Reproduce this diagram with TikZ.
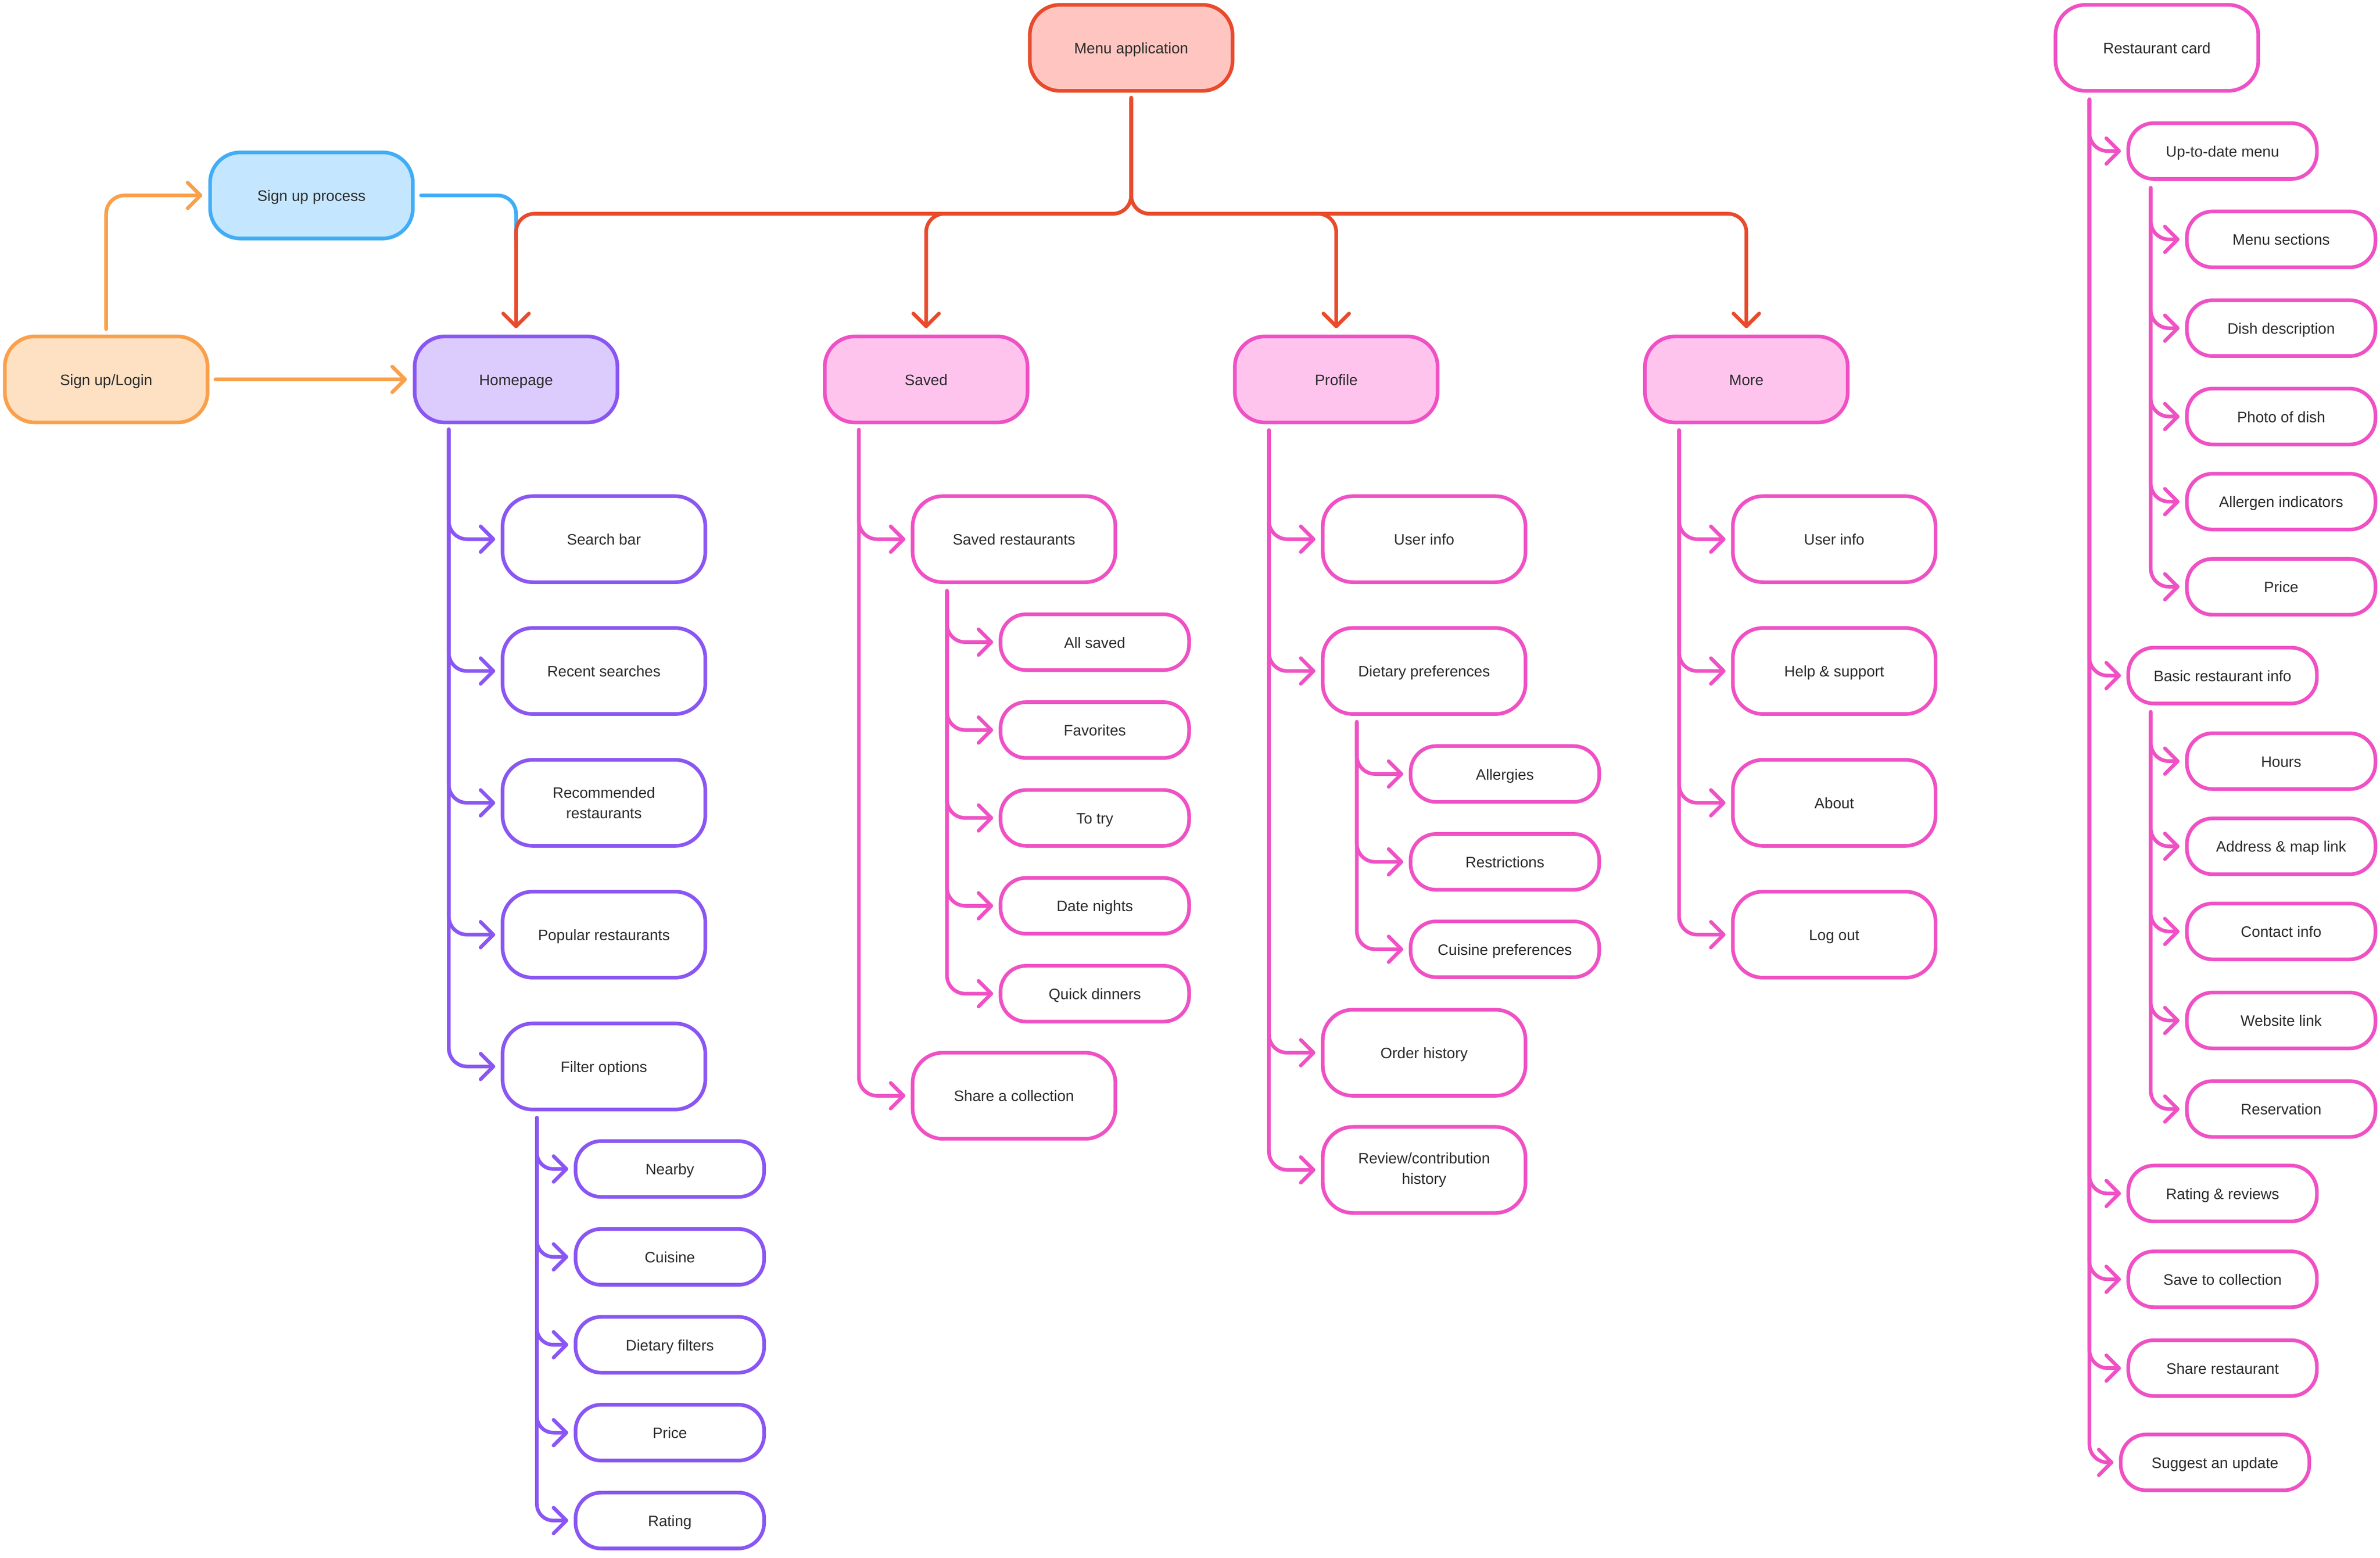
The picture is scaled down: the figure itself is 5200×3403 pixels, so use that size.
\documentclass[tikz,border=0pt]{standalone}
\usepackage{fontspec}
\setmainfont{Liberation Sans}
\usetikzlibrary{arrows.meta,calc}
\definecolor{cRed}{HTML}{E84B2C}
\definecolor{cRedF}{HTML}{FFC6C1}
\definecolor{cBlue}{HTML}{41ADF5}
\definecolor{cBlueF}{HTML}{C4E6FE}
\definecolor{cOrg}{HTML}{F9A04B}
\definecolor{cOrgF}{HTML}{FEE0C3}
\definecolor{cPur}{HTML}{8A56F3}
\definecolor{cPurF}{HTML}{DCCCFE}
\definecolor{cPink}{HTML}{EF51C4}
\definecolor{cPinkF}{HTML}{FFC4ED}
\definecolor{cText}{HTML}{2C2C2C}
\begin{document}
\begin{tikzpicture}[x=1pt,y=-1pt,
  box/.style={draw, line width=8pt, rounded corners=66pt, minimum width=443pt, minimum height=188pt,
    align=center, text=cText, font=\fontsize{33}{45}\selectfont, inner sep=0pt,
    text height=25pt, text depth=0pt},
  twoline/.style={text height={}, text depth={}},
  sbox/.style={box, rounded corners=56pt, minimum width=412pt, minimum height=122pt},
  pur/.style={box, draw=cPur, fill=white},
  spur/.style={sbox, draw=cPur, fill=white},
  pnk/.style={box, draw=cPink, fill=white},
  spnk/.style={sbox, draw=cPink, fill=white},
  conn/.style={line width=8pt, line cap=round, rounded corners=40pt,
    -{Straight Barb[length=28pt,width=56pt,round]}, shorten >=12pt},
  pconn/.style={conn, draw=cPur},
  kconn/.style={conn, draw=cPink},
  rconn/.style={conn, draw=cRed, shorten >=14pt},
  oconn/.style={conn, draw=cOrg, shorten >=13pt},
]
\useasboundingbox (0,0) rectangle (5200,3403);

% ---- top level ----
\node[box, draw=cRed, fill=cRedF] (menu) at (2471.5,104.5) {Menu application};
\node[pnk] (rcard) at (4712.5,104.5) {Restaurant card};
\node[box, draw=cBlue, fill=cBlueF] (signup) at (680.5,427) {Sign up process};
\node[box, draw=cOrg, fill=cOrgF] (login) at (232,829) {Sign up/Login};
\node[box, draw=cPur, fill=cPurF] (hp) at (1127.5,829) {Homepage};
\node[box, draw=cPink, fill=cPinkF] (saved) at (2023.5,829) {Saved};
\node[box, draw=cPink, fill=cPinkF] (profile) at (2919.5,829) {Profile};
\node[box, draw=cPink, fill=cPinkF] (more) at (3815.5,829) {More};

% ---- Homepage ----
\node[pur] (hp1) at (1319.5,1178) {Search bar};
\node[pur] (hp2) at (1319.5,1466) {Recent searches};
\node[pur, twoline] (hp3) at (1319.5,1754) {Recommended\\restaurants};
\node[pur] (hp4) at (1319.5,2042) {Popular restaurants};
\node[pur] (hp5) at (1319.5,2330) {Filter options};
\node[spur] (f1) at (1463.5,2554) {Nearby};
\node[spur] (f2) at (1463.5,2746) {Cuisine};
\node[spur] (f3) at (1463.5,2938) {Dietary filters};
\node[spur] (f4) at (1463.5,3130) {Price};
\node[spur] (f5) at (1463.5,3322) {Rating};

% ---- Saved ----
\node[pnk] (sv1) at (2215.5,1178) {Saved restaurants};
\node[pnk] (sv2) at (2215.5,2394) {Share a collection};
\node[spnk] (sr1) at (2392,1403) {All saved};
\node[spnk] (sr2) at (2392,1595) {Favorites};
\node[spnk] (sr3) at (2392,1787) {To try};
\node[spnk] (sr4) at (2392,1979) {Date nights};
\node[spnk] (sr5) at (2392,2171) {Quick dinners};

% ---- Profile ----
\node[pnk] (pr1) at (3111.5,1178) {User info};
\node[pnk] (pr2) at (3111.5,1466) {Dietary preferences};
\node[pnk] (pr3) at (3111.5,2300) {Order history};
\node[pnk, twoline] (pr4) at (3111.5,2556) {Review/contribution\\history};
\node[spnk] (dp1) at (3288,1691) {Allergies};
\node[spnk] (dp2) at (3288,1883) {Restrictions};
\node[spnk] (dp3) at (3288,2074) {Cuisine preferences};

% ---- More ----
\node[pnk] (mo1) at (4007.5,1178) {User info};
\node[pnk] (mo2) at (4007.5,1466) {Help \& support};
\node[pnk] (mo3) at (4007.5,1754) {About};
\node[pnk] (mo4) at (4007.5,2042) {Log out};

% ---- Restaurant card ----
\node[spnk] (rc1) at (4856,330) {Up-to-date menu};
\node[spnk] (rc2) at (4856,1476) {Basic restaurant info};
\node[spnk] (rc3) at (4856,2607.5) {Rating \& reviews};
\node[spnk] (rc4) at (4856,2795) {Save to collection};
\node[spnk] (rc5) at (4856,2989) {Share restaurant};
\node[spnk] (rc6) at (4839.5,3195) {Suggest an update};
\node[spnk] (um1) at (4984,523) {Menu sections};
\node[spnk] (um2) at (4984,717) {Dish description};
\node[spnk] (um3) at (4984,910) {Photo of dish};
\node[spnk] (um4) at (4984,1096) {Allergen indicators};
\node[spnk] (um5) at (4984,1282) {Price};
\node[spnk] (bi1) at (4984,1663) {Hours};
\node[spnk] (bi2) at (4984,1849) {Address \& map link};
\node[spnk] (bi3) at (4984,2035) {Contact info};
\node[spnk] (bi4) at (4984,2229.5) {Website link};
\node[spnk] (bi5) at (4984,2423) {Reservation};

% ---- trunk start coordinates ----
\coordinate (menuT) at ([yshift=-11pt]menu.south);
\coordinate (bus) at (2471.5,467);
\coordinate (hpT) at ([xshift=-147pt,yshift=-11pt]hp.south);
\coordinate (svT) at ([xshift=-147pt,yshift=-12pt]saved.south);
\coordinate (prT) at ([xshift=-147pt,yshift=-13pt]profile.south);
\coordinate (moT) at ([xshift=-147pt,yshift=-13pt]more.south);
\coordinate (fT) at ([xshift=-146.5pt,yshift=-14pt]hp5.south);
\coordinate (srT) at ([xshift=-146.5pt,yshift=-15pt]sv1.south);
\coordinate (dpT) at ([xshift=-147pt,yshift=-13pt]pr2.south);
\coordinate (rcT) at ([xshift=-147.5pt,yshift=-14.5pt]rcard.south);
\coordinate (umT) at ([xshift=-157pt,yshift=-15.5pt]rc1.south);
\coordinate (biT) at ([xshift=-157pt,yshift=-14.5pt]rc2.south);
\coordinate (bj) at (hp.north |- signup.south);

% ---- sign up connectors ----
\draw[line width=8pt, line cap=round, rounded corners=40pt, cBlue] ([xshift=14pt]signup.east) -| (bj);
\draw[oconn] ([yshift=12pt]login.north) |- (signup.west);
\draw[oconn] ([xshift=13pt]login.east) -- (hp.west);

% ---- menu connectors ----
\foreach \n in {hp,saved,profile,more}
  \draw[rconn] (menuT) |- (bus -| \n.north) -- (\n.north);

% ---- branches ----
\foreach \c in {hp1,hp2,hp3,hp4,hp5} \draw[pconn] (hpT) |- (\c.west);
\foreach \c in {f1,f2,f3,f4,f5} \draw[pconn, rounded corners=36pt] (fT) |- (\c.west);
\foreach \c in {sv1,sv2} \draw[kconn] (svT) |- (\c.west);
\foreach \c in {sr1,sr2,sr3,sr4,sr5} \draw[kconn] (srT) |- (\c.west);
\foreach \c in {pr1,pr2,pr3,pr4} \draw[kconn] (prT) |- (\c.west);
\foreach \c in {dp1,dp2,dp3} \draw[kconn] (dpT) |- (\c.west);
\foreach \c in {mo1,mo2,mo3,mo4} \draw[kconn] (moT) |- (\c.west);
\foreach \c in {rc1,rc2,rc3,rc4,rc5,rc6} \draw[kconn] (rcT) |- (\c.west);
\foreach \c in {um1,um2,um3,um4,um5} \draw[kconn] (umT) |- (\c.west);
\foreach \c in {bi1,bi2,bi3,bi4,bi5} \draw[kconn] (biT) |- (\c.west);
\end{tikzpicture}
\end{document}
